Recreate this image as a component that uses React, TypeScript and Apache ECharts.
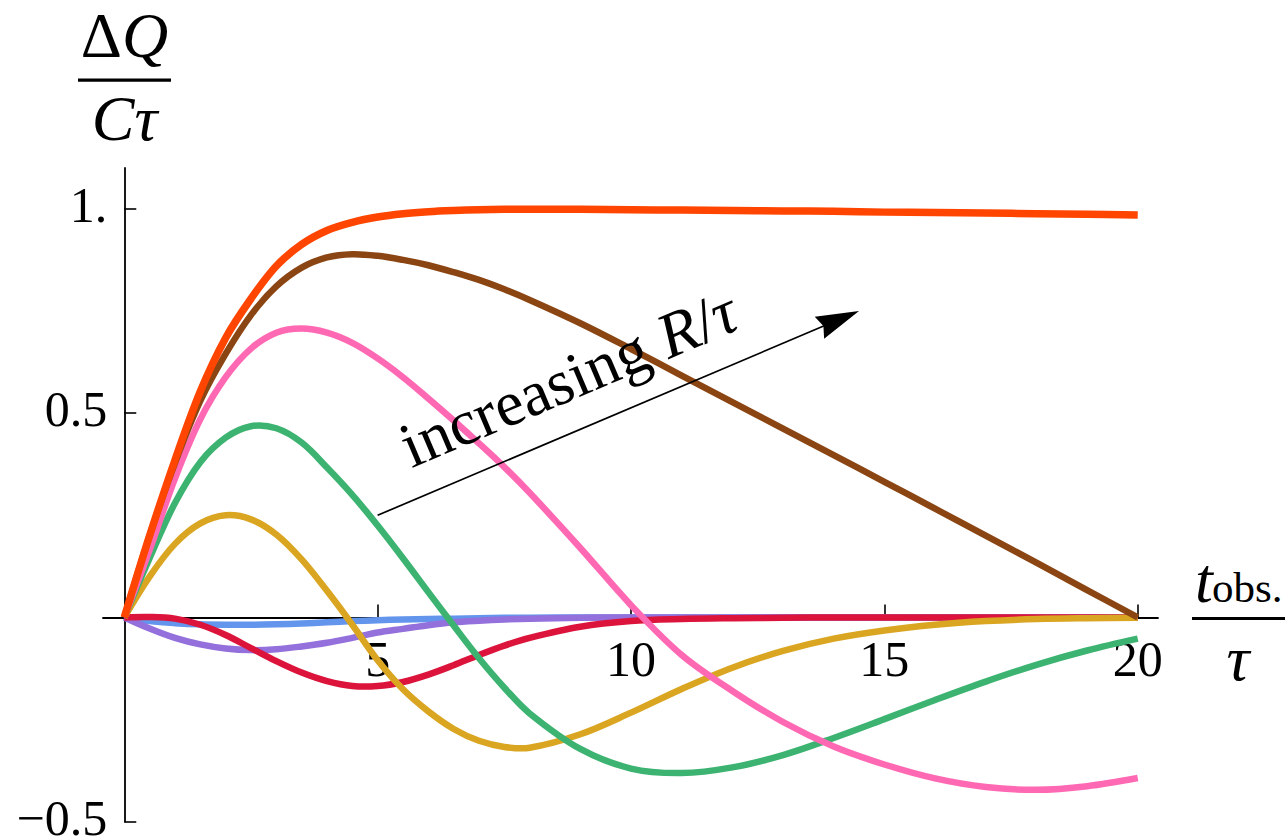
import React, { useEffect, useRef } from "react";
import * as echarts from "echarts";

// Sample points along t_obs / τ
const tValues = [0, 0.5, 1, 1.5, 2, 2.5, 3, 3.5, 4, 4.5, 5, 5.5, 6, 6.5, 7, 7.5, 8, 9, 10, 11, 12, 13, 14, 15, 16, 17, 18, 19, 20];

// ΔQ / (Cτ) for each curve, one value per entry of tValues
const blueCurve = [0, -0.009, -0.014, -0.017, -0.018, -0.018, -0.017, -0.015, -0.012, -0.009, -0.007, -0.005, -0.004, -0.003, -0.002, -0.001, -0.001, 0, 0, 0, 0, 0, 0, 0, 0, 0, 0, 0, 0];
const purpleCurve = [0, -0.027, -0.05, -0.066, -0.076, -0.08, -0.078, -0.071, -0.062, -0.05, -0.037, -0.028, -0.019, -0.012, -0.008, -0.005, -0.003, -0.001, 0, 0, 0, 0, 0, 0, 0, 0, 0, 0, 0];
const crimsonCurve = [0, 0.001, -0.003, -0.018, -0.043, -0.075, -0.107, -0.135, -0.156, -0.168, -0.168, -0.158, -0.14, -0.117, -0.092, -0.069, -0.05, -0.023, -0.009, -0.004, -0.002, -0.001, 0, 0, 0, 0, 0, 0, 0];
const goldCurve = [0, 0.1, 0.18, 0.23, 0.25, 0.24, 0.203, 0.142, 0.065, -0.018, -0.105, -0.176, -0.23, -0.273, -0.302, -0.317, -0.319, -0.286, -0.233, -0.175, -0.123, -0.082, -0.052, -0.032, -0.018, -0.009, -0.004, -0.002, -0.001];
const greenCurve = [0, 0.145, 0.28, 0.38, 0.44, 0.468, 0.463, 0.428, 0.367, 0.3, 0.225, 0.145, 0.062, -0.02, -0.1, -0.172, -0.235, -0.322, -0.37, -0.381, -0.367, -0.337, -0.295, -0.249, -0.202, -0.157, -0.116, -0.081, -0.052];
const pinkCurve = [0, 0.165, 0.34, 0.485, 0.588, 0.658, 0.697, 0.707, 0.697, 0.672, 0.634, 0.588, 0.536, 0.482, 0.426, 0.368, 0.305, 0.17, 0.03, -0.092, -0.18, -0.256, -0.316, -0.36, -0.394, -0.415, -0.422, -0.413, -0.393];
const brownCurve = [0, 0.2, 0.378, 0.53, 0.645, 0.74, 0.81, 0.856, 0.881, 0.889, 0.885, 0.875, 0.862, 0.845, 0.826, 0.803, 0.777, 0.72, 0.657, 0.592, 0.527, 0.462, 0.397, 0.332, 0.266, 0.2, 0.134, 0.067, 0];
const orangeRedCurve = [0, 0.2, 0.385, 0.553, 0.684, 0.78, 0.86, 0.913, 0.947, 0.967, 0.98, 0.988, 0.993, 0.996, 0.998, 0.999, 0.999, 0.999, 0.998, 0.997, 0.996, 0.995, 0.994, 0.992, 0.991, 0.99, 0.988, 0.987, 0.985];

// Tick positions and their printed labels
const xTickValues = [5, 10, 15, 20];
const yTickValues = [-0.5, 0.5, 1];
const yTickText = ["\u22120.5", "0.5", "1."];

// Annotation arrow, in data coordinates
const arrowFrom = [5, 0.25];
const arrowTo = [14.5, 0.75];

// Drawing order: later entries are painted on top
const curves = [
  { values: blueCurve, color: "#6495ED", width: 6.5 },
  { values: purpleCurve, color: "#9370DB", width: 6.5 },
  { values: crimsonCurve, color: "#DC143C", width: 6.5 },
  { values: goldCurve, color: "#DAA520", width: 6.5 },
  { values: greenCurve, color: "#3CB371", width: 6.5 },
  { values: pinkCurve, color: "#FF69B4", width: 6.5 },
  { values: brownCurve, color: "#8B4513", width: 6.5 },
  { values: orangeRedCurve, color: "#FF4500", width: 7.5 },
];

const FONT = "Times New Roman";
const X_MIN = -0.42;
const X_MAX = 20.4;
const Y_MIN = -0.5;
const Y_MAX = 1.1;
const GRID = { left: 103, right: 127, top: 168, bottom: 16.3 };
const HEIGHT = 838;

export default function App() {
  const ref = useRef<HTMLDivElement>(null);

  useEffect(() => {
    if (!ref.current) return;
    const chart = echarts.init(ref.current, null, { renderer: "svg" });

    // Put the horizontal axis (line, ticks, labels) on the y = 0 level
    const plotH = HEIGHT - GRID.top - GRID.bottom;
    const zeroFromBottom = ((0 - Y_MIN) / (Y_MAX - Y_MIN)) * plotH;

    chart.setOption({
      animation: false,
      backgroundColor: "#fff",
      textStyle: { fontFamily: FONT },
      grid: { ...GRID, outerBoundsMode: "none", containLabel: false },
      xAxis: {
        type: "value",
        min: X_MIN,
        max: X_MAX,
        offset: -zeroFromBottom,
        axisLine: { onZero: false, lineStyle: { color: "#000", width: 1.8 } },
        axisTick: { show: true, inside: true, length: 13, customValues: xTickValues, lineStyle: { color: "#000", width: 1.6 } },
        axisLabel: {
          customValues: xTickValues,
          margin: 17,
          fontFamily: FONT,
          fontSize: 50,
          color: "#000",
          formatter: (v: number) => String(v),
        },
        splitLine: { show: false },
      },
      yAxis: {
        type: "value",
        min: Y_MIN,
        max: Y_MAX,
        axisLine: { onZero: true, lineStyle: { color: "#000", width: 1.8 } },
        axisTick: { show: true, inside: true, length: 12, customValues: yTickValues, lineStyle: { color: "#000", width: 1.6 } },
        axisLabel: { show: false },
        splitLine: { show: false },
      },
      series: curves.map((c, k) => ({
        type: "custom",
        coordinateSystem: "cartesian2d",
        data: [[0, 0]],
        z: 2 + k,
        silent: true,
        renderItem: (_params: any, api: any) => ({
          type: "polyline",
          shape: {
            points: tValues.map((t, i) => api.coord([t, c.values[i]])),
            smooth: 0.35,
          },
          style: { stroke: c.color, lineWidth: c.width, fill: "none", lineCap: "butt", lineJoin: "round" },
        }),
      })),
    });

    // Arrow and rotated caption placed from the axes' own scales
    const p0 = chart.convertToPixel({ gridIndex: 0 }, arrowFrom) as number[];
    const p1 = chart.convertToPixel({ gridIndex: 0 }, arrowTo) as number[];
    const dx = p1[0] - p0[0];
    const dy = p1[1] - p0[1];
    const len = Math.hypot(dx, dy);
    const ux = dx / len;
    const uy = dy / len;
    const nx = uy; // normal pointing up-left
    const ny = -ux;
    const headLen = 43;
    const headHalf = 12;
    const tip = p1;
    const c1 = [tip[0] - headLen * ux + headHalf * nx, tip[1] - headLen * uy + headHalf * ny];
    const c2 = [tip[0] - headLen * ux - headHalf * nx, tip[1] - headLen * uy - headHalf * ny];
    const notch = [tip[0] - 0.9 * headLen * ux, tip[1] - 0.9 * headLen * uy];
    const lineEnd = [tip[0] - 0.85 * headLen * ux, tip[1] - 0.85 * headLen * uy];
    const angle = Math.atan2(-dy, dx);
    const along = 229;
    const offset = 51.6;
    const capX = p0[0] + along * ux + offset * nx;
    const capY = p0[1] + along * uy + offset * ny;

    const rich = (size: number, lh: number) => ({
      n: { fontFamily: FONT, fontSize: size, lineHeight: lh, fontStyle: "normal", fill: "#000" },
      i: { fontFamily: FONT, fontSize: size, lineHeight: lh, fontStyle: "italic", fill: "#000" },
    });

    const label = (x: number, y: number, text: string, size: number, italic: boolean, align: string) => ({
      type: "text",
      x,
      y,
      z: 100,
      style: {
        text,
        fontFamily: FONT,
        fontSize: size,
        fontStyle: italic ? "italic" : "normal",
        lineHeight: size * 0.85,
        fill: "#000",
        align,
        verticalAlign: "middle",
      },
    });

    // Vertical tick labels, right-aligned just left of the y axis
    const yLabels = yTickValues.map((v, i) => {
      const p = chart.convertToPixel({ gridIndex: 0 }, [0, v]) as number[];
      return label(p[0] - 17, p[1] - 4, yTickText[i], 50, false, "right");
    });

    chart.setOption({
      graphic: [
        ...yLabels,
        {
          type: "line",
          shape: { x1: p0[0], y1: p0[1], x2: lineEnd[0], y2: lineEnd[1] },
          style: { stroke: "#000", lineWidth: 1.7 },
          z: 100,
        },
        {
          type: "polygon",
          shape: { points: [tip, c1, notch, c2] },
          style: { fill: "#000" },
          z: 100,
        },
        {
          type: "text",
          x: capX,
          y: capY,
          rotation: angle,
          z: 100,
          style: {
            text: "{n|increasing }{i|R}{n|/}{i|τ}",
            rich: rich(64, 64),
            fontFamily: FONT,
            fontSize: 64,
            fill: "#000",
            align: "center",
            verticalAlign: "middle",
          },
        },
        // Vertical axis title: ΔQ over Cτ
        {
          type: "text",
          x: 124.5,
          y: 35.6,
          z: 100,
          style: {
            text: "{n|Δ}{i|Q}",
            rich: rich(64, 54),
            fontFamily: FONT,
            fontSize: 64,
            lineHeight: 54,
            fill: "#000",
            align: "center",
            verticalAlign: "middle",
          },
        },
        {
          type: "rect",
          shape: { x: 78, y: 78.5, width: 93, height: 3.3 },
          style: { fill: "#000" },
          z: 100,
        },
        label(124.5, 118.4, "Cτ", 64, true, "center"),
        // Horizontal axis title: t_obs. over τ
        label(1195, 580.4, "t", 64, true, "left"),
        label(1212, 587.6, "obs.", 43, false, "left"),
        {
          type: "rect",
          shape: { x: 1192, y: 617, width: 93, height: 3 },
          style: { fill: "#000" },
          z: 100,
        },
        label(1238, 658.4, "τ", 64, true, "center"),
      ],
    });

    return () => {
      chart.dispose();
    };
  }, []);

  return (
    <div
      ref={ref}
      style={{ position: "fixed", left: 0, top: 0, width: 1285, height: 838, background: "#fff" }}
    />
  );
}
